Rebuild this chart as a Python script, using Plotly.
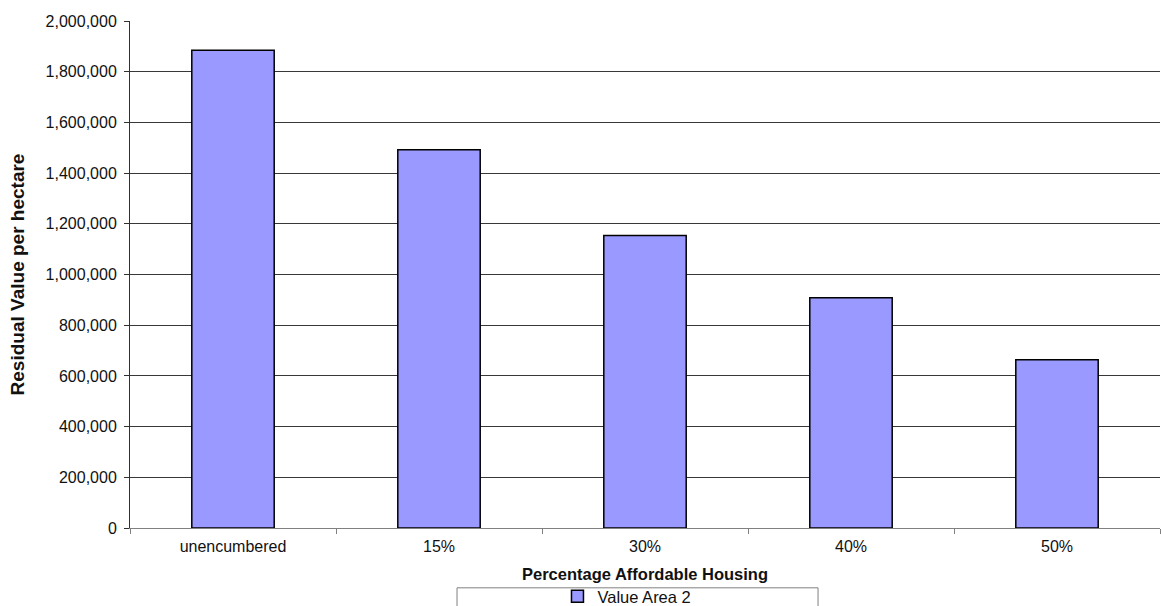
import plotly.graph_objects as go

# Residual land value per hectare at each affordable-housing level
categories = ["unencumbered", "15%", "30%", "40%", "50%"]
residual_value = [1885000, 1492000, 1154000, 908000, 664000]
series_name = "Value Area 2"

y_ticks = list(range(0, 2000001, 200000))

FONT = "Liberation Sans, Arial, sans-serif"
TEXT = "#111111"

fig = go.Figure(
    go.Bar(
        x=categories,
        y=residual_value,
        name=series_name,
        width=0.4,
        marker=dict(color="#9999FF", line=dict(color="#000000", width=1.5)),
        showlegend=True,
    )
)

fig.update_layout(
    width=1162,
    height=606,
    margin=dict(l=130, r=2, t=21, b=78, autoexpand=False),
    paper_bgcolor="white",
    plot_bgcolor="white",
    font=dict(family=FONT, color=TEXT, size=16),
    showlegend=True,
    legend=dict(
        orientation="h",
        x=0.4825,
        xanchor="center",
        y=-0.135,
        yanchor="middle",
        font=dict(family=FONT, size=16.5, color=TEXT),
        bgcolor="rgba(0,0,0,0)",
        itemwidth=30,
        tracegroupgap=0,
    ),
    bargap=0.6,
)

fig.update_yaxes(
    range=[0, 2000000],
    tickvals=y_ticks,
    tickformat=",d",
    showgrid=True,
    gridcolor="#383838",
    gridwidth=1,
    showline=True,
    linecolor="#303030",
    linewidth=1,
    ticks="outside",
    ticklen=5,
    tickcolor="#303030",
    ticklabelstandoff=4,
    tickfont=dict(family=FONT, size=16, color=TEXT),
    zeroline=False,
    title=dict(
        text="<b>Residual Value per hectare</b>",
        font=dict(family=FONT, size=19, color=TEXT),
    ),
)

fig.update_xaxes(
    type="category",
    showline=True,
    linecolor="#808080",
    linewidth=1,
    ticks="outside",
    tickson="boundaries",
    ticklen=5,
    tickcolor="#808080",
    ticklabelstandoff=4,
    showgrid=False,
    tickfont=dict(family=FONT, size=16, color=TEXT),
    title=dict(
        text="<b>Percentage Affordable Housing</b>",
        font=dict(family=FONT, size=16.5, color=TEXT),
        standoff=14,
    ),
)

# Frame around the legend strip below the axis title
fig.add_shape(
    type="rect",
    xref="paper",
    yref="paper",
    x0=0.3175,
    x1=0.668,
    y0=-0.118,
    y1=-0.25,
    line=dict(color="#808080", width=1),
    fillcolor="rgba(0,0,0,0)",
    layer="above",
)

fig.write_html("out.html")
